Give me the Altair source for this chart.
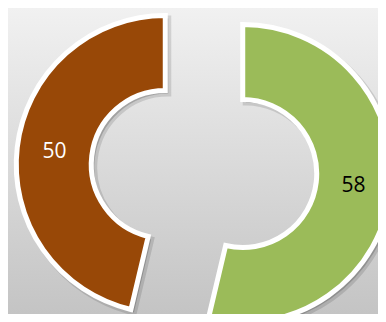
import altair as alt
import pandas as pd

# data
labels = ["58", "50"]
values = [58, 50]
order = [0, 1]
fill_colors = ["#9BBB59", "#984807"]
text_colors = ["#000000", "#ffffff"]

W, H = 370, 306
CX, CY = 196, 161      # centre of the (unexploded) ring
EXPLODE = 39
R_OUT, R_IN = 149, 74
R_LAB = (R_OUT + R_IN) / 2

df = pd.DataFrame({"label": labels, "value": values, "idx": order,
                   "fill": fill_colors, "tc": text_colors})

base = alt.Chart(df).transform_joinaggregate(
    total="sum(value)"
).transform_window(
    cum="sum(value)", sort=[alt.SortField("idx")], frame=[None, 0]
).transform_calculate(
    t0="(datum.cum - datum.value) / datum.total * 2 * PI",
    t1="datum.cum / datum.total * 2 * PI",
).transform_calculate(
    mid="(datum.t0 + datum.t1) / 2"
).transform_calculate(
    px=f"{CX} + {EXPLODE} * sin(datum.mid)",
    py=f"{CY} - {EXPLODE} * cos(datum.mid)",
).transform_calculate(
    sx="datum.px + 3",
    sy="datum.py + 3",
    lx=f"datum.px + {R_LAB} * sin(datum.mid)",
    ly=f"datum.py - {R_LAB} * cos(datum.mid)",
)

bg = alt.Chart(df).mark_rect(
    color=alt.LinearGradient(
        gradient="linear",
        stops=[alt.GradientStop(color="#f1f1f1", offset=0),
               alt.GradientStop(color="#c4c4c4", offset=1)],
        x1=0, y1=0, x2=0, y2=1,
    )
).encode(x=alt.value(0), x2=alt.value(W), y=alt.value(0), y2=alt.value(H))

shadow = base.mark_arc(
    innerRadius=R_IN, outerRadius=R_OUT, fill="#000000", fillOpacity=0.18,
    stroke="#000000", strokeWidth=6, strokeOpacity=0.12,
).encode(
    theta=alt.Theta("t0:Q", scale=None), theta2="t1:Q",
    x=alt.X("sx:Q", scale=None), y=alt.Y("sy:Q", scale=None),
)

arcs = base.mark_arc(
    innerRadius=R_IN, outerRadius=R_OUT, stroke="#ffffff", strokeWidth=5,
).encode(
    theta=alt.Theta("t0:Q", scale=None), theta2="t1:Q",
    x=alt.X("px:Q", scale=None), y=alt.Y("py:Q", scale=None),
    fill=alt.Fill("fill:N", scale=None),
)

text = base.mark_text(font="Open Sans", fontSize=21, baseline="middle",
                      align="center").encode(
    x=alt.X("lx:Q", scale=None), y=alt.Y("ly:Q", scale=None),
    text="label:N", color=alt.Color("tc:N", scale=None),
)

chart = alt.layer(bg, shadow, arcs, text).properties(
    width=W, height=H, padding=0, autosize=alt.AutoSizeParams(type="none")
).configure_view(stroke=None)

chart.save("out.html", embed_options={"renderer": "svg", "actions": False})
